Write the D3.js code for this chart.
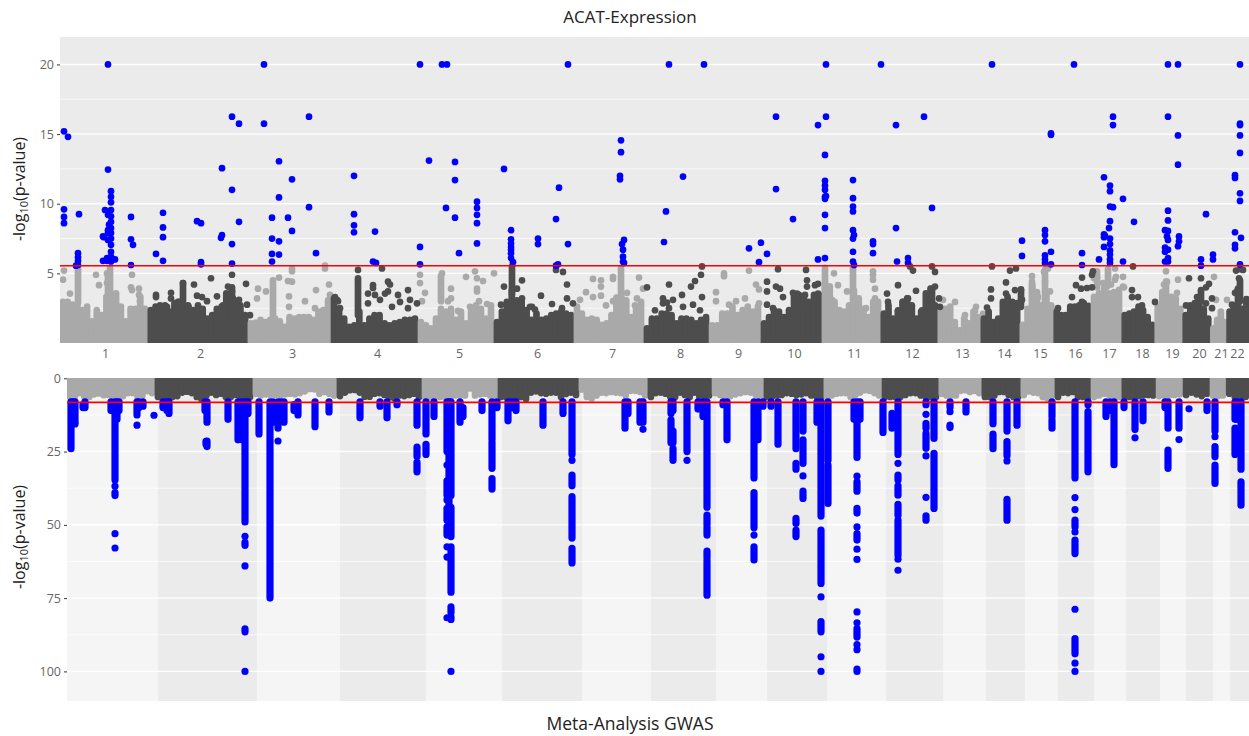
<!DOCTYPE html>
<html>
<head>
<meta charset="utf-8">
<script src="https://cdn.jsdelivr.net/npm/d3@7"></script>
<style>
    html, body { margin: 0; padding: 0; background: #fff; }
    text { font-family: "Open Sans", "Noto Sans", sans-serif; }
</style>
</head>
<body>
<svg id="chart" width="1249" height="736"></svg>
<script>
"use strict";

var chromosomes = ['1','2','3','4','5','6','7','8','9','10','11','12','13','14','15','16','17','18','19','20','21','22'];

// chromosome edges along the genome axis of each panel
var acatEdges = [0,88,188,271,358,434,514,584,649,701,762,821,878,921,960,994,1031,1062,1095,1123,1151,1167,1189];
var acatLabelPos = [45,140,232,317,399,477,552,620,678,734,794,852,902,944,980,1015,1049,1082,1112,1139,1161,1177];
var gwasBands = [0,91,190,273,359,435,515,584,649,700,760,819,876,919,958,991,1027,1059,1093,1119,1146,1163,1182];
var gwasEdges = [0,88,186,270,355,431,512,581,645,697,757,815,872,915,954,988,1024,1055,1089,1116,1143,1159,1182];

// top edge of the solid cloud of non significant points, per chromosome
var acatCloud = [
    [3.2,3.2,3.0,3.0,2.6,2.85,1.8,2.6,2.25,3.55,3.8,3.8,2.85,1.8,2.7,2.7,3.55,2.7],
    [2.6,2.85,2.6,2.95,2.5,3.1,3.2,2.85,2.85,2.6,2.95,2.7,2,2.25,2.7,2.85,3.8,3.3,3.2,2.95,2.25],
    [1.65,1.7,1.9,1.75,1.9,2,1.8,1.4,2.1,2,2.1,2.1,2.1,1.9,2.5,2.6,3.3],
    [3.45,2.7,2,1.4,1.5,2.5,1.5,2,2.25,2.25,1.65,1.5,1.65,1.75,1.9,1.9,2],
    [1.75,1.5,1.3,2,2.7,2.5,2.7,1.9,2.5,1.65,2.5,2.95,2.7,2,2.95],
    [1.75,2.5,3.2,4,3.3,3.2,2.6,1.9,2.35,1.9,2,2.25,2.35,2.5,2.35,2.25],
    [2.85,2.35,1.9,2,1.9,1.55,1.65,2.25,3.5,3.55,3.3,2.1,2.7,3.2],
    [1.3,2,2,2.35,2.35,2.25,1.65,2,2,1.9,1.65,1.9,2.1],
    [1.5,1.5,2.35,2.35,2.85,2.25,2.6,2.85,2.5,2.85],
    [1.65,2.1,2.6,2.5,2.1,2.6,3.7,3.7,3.45,3.2,3.7,3.7],
    [4.4,4.3,3.2,2.6,2.5,2.95,4,3.45,2.7,2.1,3.2,3.2],
    [2.35,2.95,2,2.5,3.2,3.45,2.95,2,2.5,3.8,4.15,2.95],
    [2.6,2.7,2.85,1.75,1.15,2,1.65,2.5,2.1],
    [2,2.5,1.75,2,3.2,3.55,3.2,3.1],
    [1.55,2.7,4.4,3.9,2.95,3.8,2.95],
    [2.5,2.25,2.25,2.85,2.85,2.95,3.1,2.9],
    [3.55,3.8,4.15,3.8,3.9,4.05],
    [2.25,2.35,2.5,2.85,2.6,2.1,1.55],
    [2.85,3.9,3.45,3.55,3.45,2.7],
    [2.25,2.95,3.1,3.2,2.7,2],
    [1.3,1.9,2.5,1.75],
    [2.5,2.95,4.15,2.7,3.4]
];

var gwasCloud = [
    [7.5,7.5,6.2,7.5,7.5,6.6,6.3,6.9,6.8,7.5,7.5,7.2,6.2,6.2,7.5,7.0,5.5,6.2],
    [7.5,7.5,7.5,7.5,7.2,6.0,5.7,6.2,7.5,8.4,7.0,6.0,6.8,6.4,7.5,7.5,6.8,7.5,7.5,7.5],
    [6.4,7.0,6.6,6.8,6.8,7.0,6.6,6.4,6.6,6.2,5.6,4.8,4.9,6.4,5.8,6.4,7.0],
    [7.2,6.0,5.2,5.1,6.0,7.4,7.4,6.4,6.2,6.8,7.5,8.0,7.0,7.2,6.8,6.4,7.5],
    [7.5,7.5,7.5,7.5,7.5,7.5,7.0,7.0,7.0,4.6,7.0,6.6,6.4,7,7.2],
    [7.5,7.5,7.5,7.5,7.5,8.2,6.0,5.6,6.2,6.4,6.0,6.0,7.5,6.5,6.0,6.8],
    [5.0,7.5,8.0,7.0,6.0,6.2,5.8,6.0,6.2,7.0,5.4,5.4,5.8,7],
    [7.5,6.2,6.0,6.4,7.5,7.5,6.0,6.8,7.5,6.0,7.5,7.5,7],
    [6.2,6.8,7.5,7.2,6.6,6.2,5.8,6.0,6.8,7.4],
    [7.5,7.5,7.0,6.8,6.2,6.4,6.8,6.6,6.2,7.0,7.2,7.5],
    [7.5,7.0,6.4,6.2,6.2,7.5,6.8,6.0,5.2,5.4,6.2,7.0],
    [7.5,7.5,7.5,7.5,6.8,6.2,6.2,7.0,7.5,7.5,7.5],
    [6.4,7,7.0,7.0,5.4,5.2,5.8,5.4,6.2],
    [7.5,7.5,7.0,5.8,5.8,6.8,7.5,7.5],
    [6.8,5.6,6.0,6.2,7.5,8,7],
    [7.5,6.0,6.2,5.8,7.5,7.5,7.5],
    [7.5,7.0,6.4,6.8,7.2,7.5],
    [7.5,7.5,7.5,7.2,6.8,6.8,7.0],
    [7.2,7,7,6.8,6.6],
    [6.8,6.0,6.6,7.2,6.4],
    [7.0,7.2,7],
    [6.4,7.4,7.5,7.5]
];

// [position, from, to] pillars of overlapping points above the cloud
var acatLightPillars = [[18,2.9,5.5],[50,3,5.4],[48,3,4.8],[213,2,4.5],[381,3,4.8],[561,3,5.4],[765,3.5,5.4],[793,3,5.4],[972,2.4,4.4],[985,3,5],[1037,4,5.15],[1048,4.2,5.3],[1106,3.4,4.4]];
var acatDarkPillars = [[123,2,4.3],[172,2,4],[298,2,4.5],[452,3.5,5.5],[737,2.4,3.5],[872,2.8,3.9],[961,2.8,3.8],[1180,3,4.5],[1141,3,3.7]];

// [position, -log10 p] single grey points
var acatLightPoints = [
    [4,5.2],[3,4.55],[10,3.55],[36,4.9],[39,4.15],[47,5],[47,4.3],[72,4.9],[71,4],[72,3.8],[79,3.9],[79,3.45],[80,3],
    [198,3.9],[197,3.2],[206,3.7],[219,4.7],[232,5.35],[232,5.15],[232,4.4],[228,4.45],[229,3.35],[229,2.6],[245,3],[256,3.8],[265,5.55],[265,5.35],[269,4.2],[270,3.45],[255,2.5],
    [360,4.9],[360,4.3],[365,3.6],[362,3],[382,5],[391,3.9],[391,3.2],[388,3],[406,4.75],[415,5.15],[417,4.65],[423,4.45],[417,3.9],[417,3.7],[434,5],[419,3],[427,2.8],[410,2.6],[398,2.3],
    [533,4.6],[541,4.5],[541,4.05],[553,4.75],[553,4.6],[526,3.65],[533,3.3],[541,3.4],[553,3],[567,3.6],[579,4.7],[583,3.9],[577,3.2],[575,2.7],[546,2.7],[520,3.1],
    [656,3.65],[664,5],[664,4.8],[656,3],[689,5.2],[696,4.2],[699,3.85],[676,3],[669,2.75],[685,3.2],[699,2.85],
    [774,5],[778,4.15],[787,3.7],[772,3.1],[813,5.15],[813,4.9],[813,4.55],[815,3.9],[815,3.2],[806,2.5],
    [883,3.1],[895,2.95],[905,2],[905,1.55],[916,2.6],[915,2.3],[923,2.1],
    [972,4.8],[984,5.1],[985,5.25],[988,5.35],[985,4.4],[990,3.7],[978,3.3],[991,2.6],
    [1034,4.65],[1055,5.35],[1056,4.75],[1055,4.55],[1063,4.75],[1064,4],[1063,4.05],[1047,4.05],[1037,4.7],[1051,4.2],[1043,4.3],
    [1106,5.15],[1107,4.4],[1104,4.2],[1118,4.55],[1105,3.8],[1117,3.6],
    [1154,4.75],[1156,3.1],[1167,3.1]
];

var acatDarkPoints = [
    [151,4.65],[134,4.2],[96,3.45],[96,3.3],[111,3.6],[111,3.2],[137,3.4],[142,3.3],[147,3],[157,3.35],[172,4.9],[168,4.05],[172,3.7],[186,4.25],[179,3.1],[187,2.75],[190,2],
    [118,2.95],[170,3.55],[173,3.2],[163,2.7],[100,2.7],[107,2.6],[128,2.7],[123,4.3],
    [298,5.25],[298,4.65],[313,4.15],[313,3.95],[308,3.55],[315,3.45],[322,5.35],[328,4.4],[328,3.7],[325,3.55],[330,4.2],[338,3.45],[340,2.95],[348,3.8],[350,3.1],[348,2.5],[357,2.85],[277,3.1],[278,3],[275,3.3],[280,2.5],[308,2.85],[320,3.1],[332,2.6],
    [462,4.5],[444,4.05],[457,3.9],[462,3.2],[481,3.4],[492,2.8],[503,5.1],[496,5.25],[507,4.2],[507,3.2],[513,2.85],[502,2.5],[472,2.6],[441,2.75],[470,2.6],[475,2.4],
    [642,5.5],[641,4.9],[635,4.45],[631,4.05],[609,4.2],[587,4],[603,3.2],[603,2.85],[607,2.9],[613,3.1],[622,3.45],[623,2.6],[642,3.3],[633,2.75],[640,2.35],[609,2.5],[595,2.35],
    [718,5.3],[707,4.4],[707,3.7],[707,2.75],[716,4.05],[720,3.9],[723,3.3],[713,2.5],[746,5.25],[747,4.5],[747,4.05],[755,4.15],[758,3.55],[745,3.45],[747,2.7],[733,3.6],[737,3.55],[738,3.0],[758,4.25],
    [827,3.55],[828,2.95],[838,4.15],[856,3.75],[850,5.5],[853,5.2],[872,5.5],[875,5.1],[875,4.05],[872,3.85],[870,3.55],[872,2.95],[879,3.2],[880,2.6],[848,3.2],[843,2.95],[838,2.35],[862,2.35],
    [932,5.5],[931,3.85],[931,3.2],[927,2.55],[950,5.2],[956,5.35],[946,4.35],[946,3.55],[955,3.8],[961,3.85],[962,3.1],[945,2.6],[961,2.6],
    [1022,4.7],[1016,4.15],[1021,3.9],[1027,3.95],[1032,4],[1032,4.9],[1033,5.15],[1012,3.3],[1022,2.95],[998,2.5],
    [1073,5.5],[1072,3.8],[1072,3.3],[1078,3.3],[1082,2.7],[1095,2.95],
    [1129,4.65],[1141,4.65],[1141,3.8],[1149,4.25],[1146,4],[1137,3.3],[1152,3.2],[1126,2.7],[1146,2.85],[1152,2.5],
    [1176,5.2],[1180,5.3],[1183,5.25],[1179,4.65],[1177,3.7],[1175,3.6],[1172,2.75]
];

// ACAT-Expression hits above the threshold
var acatHits = [
    [48,20],[4,15.2],[8,14.8],[48,12.45],[51,10.9],[51,10.5],[51,10.1],[45,9.55],[51,9.55],[4,9.6],[4,9.05],[4,8.6],[19,9.25],
    [18,6.45],[18,6.15],[18,5.9],[18,5.6],[16,5.55],
    [51,9.1],[51,8.7],[51,8.25],[51,7.9],[51,7.5],[51,7.05],[51,6.55],[51,6.2],[51,5.85],[48,9.2],[48,8.1],[48,7.9],[48,7.4],[43,7.65],[44,7.6],[43,5.9],[47,6.1],[55,6],[49,8.5],[47,5.9],
    [71,9.05],[71,7.45],[73,7.05],[71,5.6],[96,6.4],[103,9.35],[103,8.3],[103,7.6],[103,5.9],
    [137,8.75],[141,8.6],[141,5.8],[141,5.65],[162,12.55],[162,7.75],[161,7.55],[172,16.25],[172,11],[172,7.1],[172,5.7],[179,15.75],[179,8.7],
    [204,20],[204,15.75],[219,13.05],[219,10.45],[212,9],[212,7.5],[219,7.3],[212,6.4],[219,6.35],[212,5.85],[228,9],[232,11.75],[232,8.05],[249,16.25],[249,9.75],[256,6.45],
    [294,12],[294,9.25],[294,8.45],[294,7.95],[315,8],[313,5.85],[316,5.75],
    [360,20],[360,6.9],[360,5.65],[382,20],[387,20],[369,13.1],[395,13],[395,11.7],[386,9.7],[395,9],[399,6.45],
    [417,10.15],[417,9.7],[417,9.2],[417,8.6],[417,7.15],[444,12.5],[451,8.1],[451,7.45],[451,7.15],[451,6.9],[451,6.7],[451,6.45],[451,6.1],[453,5.8],
    [478,7.5],[478,7.1],[499,11.15],[496,8.9],[508,7.1],[508,20],[498,5.65],[496,5.55],
    [561,14.55],[561,13.7],[560,12],[560,11.75],[564,7.4],[562,7.1],[563,6.7],[563,6.2],[563,5.85],[564,5.75],
    [609,20],[644,20],[606,9.45],[604,7.25],[623,11.95],
    [689,6.8],[701,7.2],[707,6.4],[699,5.8],[716,16.25],[716,11.05],[733,8.9],
    [758,15.65],[766,20],[766,16.25],[765,13.5],[765,11.65],[765,11.3],[765,11],[765,10.5],[765,10.35],[766,10.55],[765,9.2],[765,8.25],[765,6.1],[758,6],
    [821,20],[793,11.7],[793,10.4],[793,9.8],[793,9.45],[793,8.1],[794,7.75],[793,7.5],[793,6.55],[793,5.85],[794,5.6],[813,7.3],[813,7.1],[813,6.45],
    [836,15.65],[836,8.25],[837,5.85],[864,16.25],[872,9.7],[848,6.1],[848,5.75],
    [932,20],[962,7.35],[962,6.25],[985,8.1],[985,7.75],[985,7.3],[985,6.3],[985,6],[985,5.75],[991,15.05],[991,14.95],[991,6.55],[991,5.65],
    [1014,20],[1022,6.45],[1022,5.6],[1039,6],[1044,11.9],[1050,11.3],[1050,10.9],[1050,9.8],[1053,9.75],[1050,8.75],[1049,8.25],[1044,7.8],[1044,7.6],[1045,7.7],[1050,7.5],[1050,7.1],[1044,6.9],[1050,6.65],[1050,6.35],[1050,6],[1050,5.75],
    [1053,16.25],[1053,15.65],[1063,10.35],[1063,5.85],[1074,8.7],
    [1108,20],[1118,20],[1108,16.25],[1108,9.5],[1108,8.8],[1105,8.1],[1108,8.05],[1107,7.65],[1108,7.4],[1105,6.85],[1105,6.55],[1108,6.7],[1108,6.1],[1105,5.85],[1108,5.85],
    [1118,14.9],[1118,12.8],[1119,7.65],[1119,7.3],[1118,6.95],[1146,9.25],[1141,6],[1141,5.55],[1153,6.35],[1153,6],
    [1180,20],[1180,15.75],[1180,15.65],[1180,14.9],[1180,13.65],[1175,12.05],[1175,11.85],[1180,10.75],[1180,10.2],[1175,7.95],[1181,7.55],[1175,7.05],[1175,6.8],[1180,5.65]
];

// GWAS pillars of hits, [position, from, to]
var gwasHitRuns = [
    [4,8,24],[8,8,15],[6,8,13],[18,8,10],[16,9,10],[48,8,34.7],[48,39,40],[44,8,11],[52,8,11],[50,8,14],
    [70,8,12.5],[76,8,9.5],[72,8,10],[96,8,10],[102,8,12],[100,8,11],[138,8,11],[140,8,15],[140,21.4,23.3],[139,21.5,22.5],
    [161,8,14],[171,8,21],[175,8,21],[178,8,49],[178,56,57],[178,85.5,86.5],[181,8,12],[192,8,19],[203,8,75],[206,8,15],[211,8,17],[217,8,15],[214,8,14],
    [227,9,11],[231,8,12.5],[248,8,16.5],[262,8,11.5],[293,8,13.5],[313,8,9.5],[320,8,13.5],[330,8,9],
    [350,8,16],[350,23.5,26.7],[350,28.7,31.9],[359,8,19],[359,22.5,26],[367,8,13],
    [384,8,40],[384,44,54],[384,57.5,73],[384,78,80],[384,81.5,82.3],[380,8,25],[380,35,40],[380,44.4,48.4],[380,50.7,53.5],[382,8,53],
    [393,8,15],[396,10,13],[415,8,11],[425,8,21],[425,22,30.7],[425,34.2,37.8],[430,8,10],[441,8,14.5],[449,8,11],[445,8,10],
    [476,8,16],[496,8,12],[505,8,26],[505,33,36.7],[505,40.4,54.5],[505,58,63],
    [558,8,17],[561,8,12],[573,8,15],[576,8,15],[604,8,12],[604,14.2,22],[606,8,11],[606,18,22],[606,24,28],[620,8,25],
    [631,8,10.5],[636,8,13],[640,8,44],[640,46.7,50],[640,51,53.5],[640,59,61],[640,62,74],
    [660,8,21],[656,8,9],[687,8,34],[687,39,51],[687,57.5,62],[691,8,21],[696,8,9.5],[704,8,9.5],[711,8,22.5],
    [729,8,24],[729,29,31],[729,47.8,49.5],[729,51.8,54],[736,8,18],[736,21,29],[736,38.5,41],
    [750,8,15],[754,8,47],[754,51.8,70],[754,83,86.5],[761,8,28],[761,29.6,42.7],
    [790,8,27],[787,8,14],[793,8,14],[790,35.3,38.5],[790,44.4,46],[790,53,55.2],[790,85.4,88.3],[790,99.2,100],
    [816,8,18.5],[825,12,17],[831,8,26],[831,33,34.7],[831,36.7,39.9],[831,43,46.7],[831,48.4,60.4],
    [859,8,9],[859,15.4,17],[859,18.8,23.9],[859,46.9,48.4],[867,8,20.5],[867,25.6,44.4],[883,8,10],[899,8,11.5],
    [926,8,15.5],[926,19,24],[940,8,18],[940,21.6,26.4],[940,41.3,48.4],[950,8,16],[985,8,13],[985,14.2,17],
    [1008,8,34],[1008,48.4,50.7],[1008,55.2,59.8],[1008,88.8,94],[1021,8,9],[1021,11.4,31.9],
    [1039,8,13],[1043,8,11],[1047,8,29.5],[1057,8,10],[1068,8,17.5],[1076,8,14.5],[1101,8,17],[1101,24.5,30.7],[1098,8,10],[1112,8,17],
    [1140,8,11],[1148,8,18],[1148,23.3,26.8],[1148,29.6,35.9],[1168,8,14],[1168,17,26],[1170,8,14],[1174,8,31],[1174,35.3,43.3]
];

// GWAS hits standing on their own
var gwasHitPoints = [
    [8,15.6],[48,36.8],[48,53],[48,57.9],[70,16],[87,12.6],[178,53.9],[178,64],[178,100],[211,21.4],
    [380,29.6],[380,41.5],[380,57.5],[380,61],[380,81.7],[384,100],[505,28],[576,17.4],[620,28],[687,53.5],[736,33.3],
    [754,74.6],[754,95],[754,100],[790,33.4],[790,50.7],[790,58.3],[790,61.8],[790,79.7],[790,83.4],[790,90.9],[790,92.6],
    [831,29],[831,61.7],[831,65.5],[859,12.3],[859,26.5],[859,40.6],[883,11.4],[883,16],[883,16.8],[940,28.2],
    [1008,40.7],[1008,44.8],[1008,52.4],[1008,78.8],[1008,97.2],[1008,100],[1068,20.3],[1112,20.9],[1122,10.4],[1148,19.9]
];

var acatThreshold = 5.55;
var gwasThreshold = 8.2;

var LIGHT = '#a9a9a9', DARK = '#4d4d4d', HIT = '#0000ff';
var POINT_D = 6.7;

var svg = d3.select('#chart');
var defs = svg.append('defs');

// make a panel group clipped to its rectangle
function add_panel(id, x, y, w, h) {
    defs.append('clipPath').attr('id', id)
      .append('rect')
        .attr('x', x).attr('y', y).attr('width', w).attr('height', h);
    return svg.append('g').attr('clip-path', 'url(#' + id + ')');
}

function draw_grid(g, scale, major, minor, x0, x1) {
    g.selectAll(null).data(minor).enter().append('line')
        .attr('x1', x0).attr('x2', x1)
        .attr('y1', function(d) { return scale(d); })
        .attr('y2', function(d) { return scale(d); })
        .style('stroke', '#fff').style('stroke-width', 0.7);
    g.selectAll(null).data(major).enter().append('line')
        .attr('x1', x0).attr('x2', x1)
        .attr('y1', function(d) { return scale(d); })
        .attr('y2', function(d) { return scale(d); })
        .style('stroke', '#fff').style('stroke-width', 1.4);
}

// solid cloud of one chromosome, columns of overlapping points side by side
function draw_cloud(g, x, y, edges, cloud) {
    cloud.forEach(function(heights, i) {
        var along = d3.scaleLinear()
            .domain([-0.5, heights.length - 0.5])
            .range([edges[i] + 0.5, edges[i + 1] - 0.5]);
        g.selectAll(null).data(heights).enter().append('line')
            .attr('x1', function(d, j) { return x(along(j)); })
            .attr('x2', function(d, j) { return x(along(j)); })
            .attr('y1', y(0))
            // the round cap adds half a point, keep its tip on the value
            .attr('y2', function(d) { return y(d) - Math.sign(y(d) - y(0)) * POINT_D / 2; })
            .style('stroke', i % 2 ? DARK : LIGHT)
            .style('stroke-width', POINT_D)
            .style('stroke-linecap', 'round');
    });
}

function draw_runs(g, x, y, runs, color, width) {
    g.selectAll(null).data(runs).enter().append('line')
        .attr('x1', function(d) { return x(d[0]); })
        .attr('x2', function(d) { return x(d[0]); })
        .attr('y1', function(d) { return y(d[1]); })
        .attr('y2', function(d) { return y(d[2]); })
        .style('stroke', color)
        .style('stroke-width', width)
        .style('stroke-linecap', 'round');
}

function draw_points(g, x, y, points, color, width) {
    g.selectAll(null).data(points).enter().append('circle')
        .attr('cx', function(d) { return x(d[0]); })
        .attr('cy', function(d) { return y(d[1]); })
        .attr('r', width / 2)
        .style('fill', color);
}

function draw_threshold(g, y, value, x0, x1) {
    g.append('line')
        .attr('x1', x0).attr('x2', x1)
        .attr('y1', y(value)).attr('y2', y(value))
        .style('stroke', '#ff0000')
        .style('stroke-width', 1.6);
}

// the y axis and its title with the subscript in it
function draw_y_axis(y, xPos, ticks, titleX, titleY) {
    var axis = svg.append('g')
        .attr('transform', 'translate(' + xPos + ',0)')
        .call(d3.axisLeft(y).tickValues(ticks).tickSize(3).tickPadding(3));
    axis.select('.domain').remove();
    axis.selectAll('line').style('stroke', '#333').style('stroke-width', 1);
    axis.selectAll('text')
        .style('font-family', '"Open Sans", sans-serif')
        .style('font-size', '12.5px')
        .style('fill', '#666');
    var title = svg.append('text')
        .attr('transform', 'translate(' + titleX + ',' + titleY + ') rotate(-90)')
        .attr('text-anchor', 'middle')
        .style('font-size', '16px')
        .style('fill', '#222');
    title.append('tspan').text('-log');
    title.append('tspan').attr('dy', 3).style('font-size', '11px').text('10');
    title.append('tspan').attr('dy', -3).text('(p-value)');
}

// upper panel
var xTop = d3.scaleLinear().domain([0, 1189]).range([60, 1249]);
var yTop = d3.scaleLinear().domain([0, 21.97]).range([343, 37]);

var top_panel = add_panel('clip-top', 60, 37, 1189, 306);
top_panel.append('rect')
    .attr('x', 60).attr('y', 37).attr('width', 1189).attr('height', 306)
    .style('fill', '#ebebeb');
draw_grid(top_panel, yTop, [5, 10, 15, 20], [2.5, 7.5, 12.5, 17.5], 60, 1249);
draw_runs(top_panel, xTop, yTop, acatLightPillars, LIGHT, POINT_D);
draw_points(top_panel, xTop, yTop, acatLightPoints, LIGHT, POINT_D);
draw_cloud(top_panel, xTop, yTop, acatEdges, acatCloud);
draw_runs(top_panel, xTop, yTop, acatDarkPillars, DARK, POINT_D);
draw_points(top_panel, xTop, yTop, acatDarkPoints, DARK, POINT_D);
draw_points(top_panel, xTop, yTop, acatHits, HIT, POINT_D);
draw_threshold(top_panel, yTop, acatThreshold, 60, 1249);

draw_y_axis(yTop, 60, [5, 10, 15, 20], 25, 189);

var xAxis = svg.append('g')
    .attr('transform', 'translate(0,343)')
    .call(d3.axisBottom(xTop)
        .tickValues(acatLabelPos)
        .tickSize(0)
        .tickPadding(6)
        .tickFormat(function(d, i) { return chromosomes[i]; }));
xAxis.select('.domain').remove();
xAxis.selectAll('text')
    .style('font-family', '"Open Sans", sans-serif')
    .style('font-size', '12.5px')
    .style('fill', '#666');

svg.append('text')
    .attr('x', 630).attr('y', 23)
    .attr('text-anchor', 'middle')
    .style('font-size', '17px')
    .style('fill', '#222')
    .text('ACAT-Expression');

// lower panel, the axis runs downwards
var xBottom = d3.scaleLinear().domain([0, 1182]).range([67, 1249]);
var yBottom = d3.scaleLinear().domain([0, 110]).range([378.3, 700.7]);

var bottom_panel = add_panel('clip-bottom', 67, 378, 1182, 323);
bottom_panel.selectAll(null).data(d3.pairs(gwasBands)).enter().append('rect')
    .attr('x', function(d) { return xBottom(d[0]); })
    .attr('width', function(d) { return xBottom(d[1]) - xBottom(d[0]); })
    .attr('y', 378).attr('height', 323)
    .style('fill', function(d, i) { return i % 2 ? '#ebebeb' : '#f5f5f5'; });
draw_grid(bottom_panel, yBottom, [0, 25, 50, 75, 100], [12.5, 37.5, 62.5, 87.5], 67, 1249);
draw_cloud(bottom_panel, xBottom, yBottom, gwasEdges, gwasCloud);
draw_runs(bottom_panel, xBottom, yBottom, gwasHitRuns, HIT, 7.2);
draw_points(bottom_panel, xBottom, yBottom, gwasHitPoints, HIT, 7.2);
draw_threshold(bottom_panel, yBottom, gwasThreshold, 67, 1249);

draw_y_axis(yBottom, 67, [0, 25, 50, 75, 100], 25, 537);

svg.append('text')
    .attr('x', 630).attr('y', 730)
    .attr('text-anchor', 'middle')
    .style('font-size', '17.5px')
    .style('fill', '#222')
    .text('Meta-Analysis GWAS');
</script>
</body>
</html>
